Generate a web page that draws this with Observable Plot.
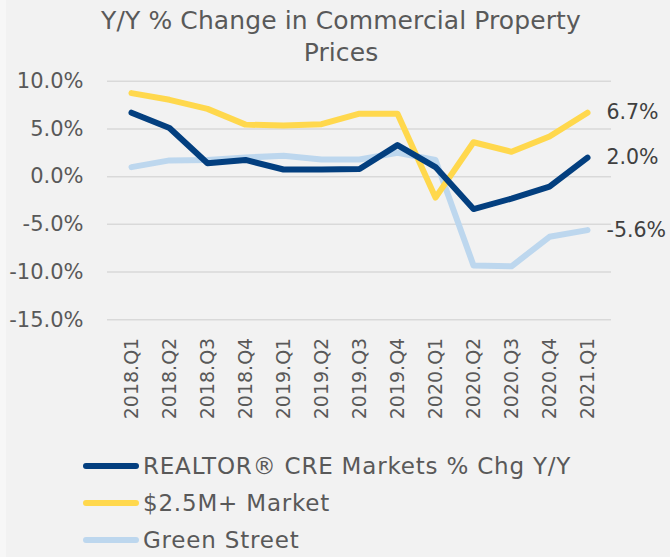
<!DOCTYPE html>
<html>
<head>
<meta charset="utf-8">
<script src="https://cdn.jsdelivr.net/npm/d3@7"></script>
<script src="https://cdn.jsdelivr.net/npm/@observablehq/plot@0.6"></script>
<style>
  html, body { margin: 0; padding: 0; background: #f7f7f7; }
  #wrap { position: relative; width: 664px; height: 557px; margin-left: 6px; background: #f2f2f2; overflow: hidden;
          font-family: "DejaVu Sans", sans-serif; color: #595959; }
  #title { position: absolute; top: 5px; left: -6px; width: 682px; text-align: center; font-size: 25px; line-height: 32px; letter-spacing: 0.1px; color: #595959; }
  #chart { position: absolute; top: 60px; left: -6px; }
  .leg { position: absolute; left: 77px; height: 30px; display: flex; align-items: center; font-size: 23px; letter-spacing: 0.8px; color: #595959; white-space: nowrap; }
  .sw { width: 56px; height: 6px; border-radius: 3px; margin-right: 4px; }
</style>
</head>
<body>
<div id="wrap">
  <div id="title">Y/Y % Change in Commercial Property<br>Prices</div>
  <div id="chart"></div>
  <div id="legend"></div>
</div>
<script>
const quarters = ["2018.Q1","2018.Q2","2018.Q3","2018.Q4","2019.Q1","2019.Q2","2019.Q3","2019.Q4","2020.Q1","2020.Q2","2020.Q3","2020.Q4","2021.Q1"];
const realtor = [6.7, 5.1, 1.4, 1.75, 0.75, 0.75, 0.8, 3.3, 1.0, -3.4, -2.3, -1.05, 2.0];
const market25 = [8.75, 8.05, 7.1, 5.45, 5.35, 5.5, 6.6, 6.6, -2.2, 3.6, 2.6, 4.2, 6.7];
const greenStreet = [1.0, 1.7, 1.75, 2.0, 2.2, 1.8, 1.8, 2.5, 1.75, -9.3, -9.4, -6.3, -5.6];
const seriesNames = ["REALTOR® CRE Markets % Chg Y/Y", "$2.5M+ Market", "Green Street"];
const seriesColors = ["#033f7f", "#ffd84d", "#bdd7ee"];
const yTicks = [10, 5, 0, -5, -10, -15];

const seriesValues = [realtor, market25, greenStreet];
const rows = [];
seriesNames.forEach((name, i) => {
  quarters.forEach((q, j) => rows.push({ series: name, quarter: q, value: seriesValues[i][j] }));
});
const last = rows.filter(d => d.quarter === quarters[quarters.length - 1]);
const drawOrder = ["Green Street", "$2.5M+ Market", "REALTOR® CRE Markets % Chg Y/Y"];

const plot = Plot.plot({
  width: 670,
  height: 380,
  marginLeft: 107,
  marginRight: 59,
  marginTop: 20.7,
  marginBottom: 120.7,
  style: { background: "transparent", fontFamily: "DejaVu Sans, sans-serif", fontSize: "19px", color: "#595959", overflow: "visible" },
  x: { type: "point", domain: quarters, padding: 0.5, label: null },
  y: { domain: [-15, 10], label: null },
  color: { domain: seriesNames, range: seriesColors },
  marks: [
    Plot.ruleY(yTicks, { stroke: "#d9d9d9", strokeWidth: 1.5 }),
    Plot.axisY({ ticks: yTicks, tickSize: 0, tickPadding: 24, tickFormat: d => d.toFixed(1) + "%", fontSize: 21, fill: "#595959", label: null }),
    Plot.axisX({ tickSize: 0, tickPadding: 18, tickRotate: -90, fontSize: 19, fill: "#595959", label: null }),
    ...drawOrder.map(name => Plot.line(rows.filter(d => d.series === name), {
      x: "quarter", y: "value", stroke: "series", strokeWidth: 6,
      strokeLinecap: "round", strokeLinejoin: "round"
    })),
    Plot.text(last, { x: "quarter", y: "value", text: d => d.value.toFixed(1) + "%", dx: 19, textAnchor: "start", fontSize: 20.5, fill: "#404040" })
  ]
});
document.getElementById("chart").appendChild(plot);

const legend = document.getElementById("legend");
const legendY = [451, 488, 525];
seriesNames.forEach((name, i) => {
  const row = document.createElement("div");
  row.className = "leg";
  row.style.top = legendY[i] + "px";
  const sw = document.createElement("div");
  sw.className = "sw";
  sw.style.background = seriesColors[i];
  const t = document.createElement("span");
  t.textContent = name;
  row.appendChild(sw); row.appendChild(t);
  legend.appendChild(row);
});
</script>
</body>
</html>
